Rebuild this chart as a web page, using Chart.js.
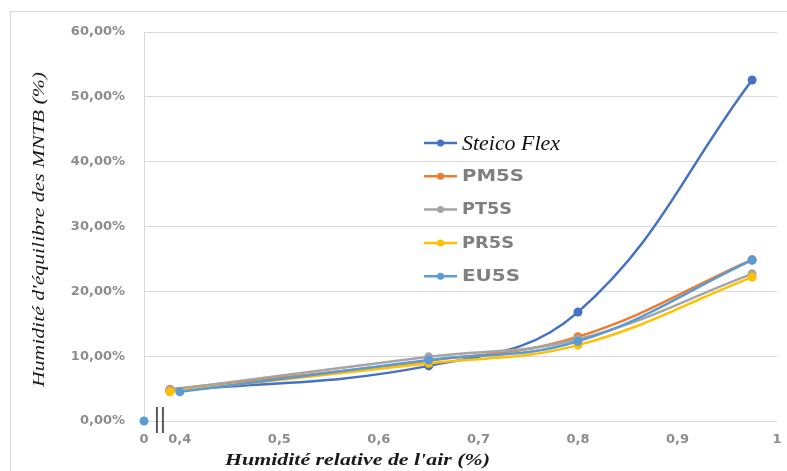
<!DOCTYPE html>
<html>
<head>
<meta charset="utf-8">
<script src="https://cdn.jsdelivr.net/npm/chart.js@4.4.1/dist/chart.umd.min.js"></script>
<style>
  html, body { margin: 0; padding: 0; background: #fff; }
  #wrap { width: 787px; height: 471px; }
</style>
</head>
<body>
<div id="wrap"><canvas id="sorption"></canvas></div>
<script>
// relative humidity of the air (x) and equilibrium moisture content in % (y)
const seriesNames = ['Steico Flex', 'PM5S', 'PT5S', 'PR5S', 'EU5S'];
const seriesColors = ['#4472C4', '#ED7D31', '#A5A5A5', '#FFC000', '#5B9BD5'];
const rhPoints = [0.39, 0.65, 0.8, 0.975];
const rhPointsEu = [0.40, 0.65, 0.8, 0.975];
const steicoFlex = [4.6, 8.5, 16.8, 52.6];
const pm5s = [4.9, 9.3, 13.0, 24.9];
const pt5s = [4.8, 9.9, 12.6, 22.7];
const pr5s = [4.5, 8.9, 11.7, 22.2];
const eu5s = [4.5, 9.4, 12.3, 24.8];
const originX = [0];
const originY = [0];
const xTicks = [0, 0.4, 0.5, 0.6, 0.7, 0.8, 0.9, 1];
const yMax = 60;
const yStep = 10;

// axis break: everything below BREAK_AT is squeezed into a short stretch
const BREAK_AT = 0.38;
const SQUEEZED_START = 0.364;
function squash(v) {
  return v >= BREAK_AT ? v : SQUEEZED_START + (v / BREAK_AT) * (BREAK_AT - SQUEEZED_START);
}
function unsquash(v) {
  return v >= BREAK_AT ? v : (v - SQUEEZED_START) / (BREAK_AT - SQUEEZED_START) * BREAK_AT;
}

class BrokenLinearScale extends Chart.LinearScale {
  buildTicks() {
    this.start = this.min;
    this.end = this.max;
    return xTicks.map(v => ({ value: v }));
  }
  getPixelForValue(value) {
    return super.getPixelForValue(squash(value));
  }
  getValueForPixel(pixel) {
    return unsquash(super.getValueForPixel(pixel));
  }
}
BrokenLinearScale.id = 'brokenLinear';
BrokenLinearScale.defaults = Chart.LinearScale.defaults;
Chart.register(BrokenLinearScale);

function toPoints(xs, ys) {
  return ys.map((y, i) => ({ x: xs[i], y: y }));
}

const seriesValues = [steicoFlex, pm5s, pt5s, pr5s, eu5s];
const datasets = seriesValues.map((vals, i) => ({
  label: seriesNames[i],
  data: toPoints(i === 4 ? rhPointsEu : rhPoints, vals),
  borderColor: seriesColors[i],
  backgroundColor: seriesColors[i],
  borderWidth: 2.5,
  pointRadius: 4.5,
  pointBorderWidth: 0,
  tension: 0.4,
  clip: false,
  order: seriesNames.length - i
}));
datasets.push({
  label: 'origin',
  data: toPoints(originX, originY),
  showLine: false,
  backgroundColor: seriesColors[4],
  borderColor: seriesColors[4],
  pointRadius: 4.5,
  pointBorderWidth: 0,
  clip: false,
  order: 0
});

function stretchText(ctx, text, x, y, font, width) {
  ctx.font = font;
  const w = ctx.measureText(text).width;
  ctx.save();
  ctx.translate(x, y);
  ctx.scale(width / w, 1);
  ctx.fillText(text, 0, 0);
  ctx.restore();
}

const decorations = {
  id: 'decorations',
  beforeDraw(chart) {
    const ctx = chart.ctx;
    ctx.save();
    ctx.strokeStyle = '#d9d9d9';
    ctx.lineWidth = 1;
    ctx.strokeRect(10.5, 11.5, chart.width, chart.height);
    ctx.restore();
  },
  afterDraw(chart) {
    const ctx = chart.ctx;
    const xs = chart.scales.x;
    const area = chart.chartArea;

    // break marks on the x axis
    const bx = xs.getPixelForValue(BREAK_AT);
    ctx.save();
    ctx.strokeStyle = '#595959';
    ctx.lineWidth = 2;
    [bx - 3, bx + 3].forEach(px => {
      ctx.beginPath();
      ctx.moveTo(px, area.bottom - 14);
      ctx.lineTo(px, area.bottom + 12);
      ctx.stroke();
    });
    ctx.restore();

    // axis titles
    ctx.save();
    ctx.fillStyle = '#1a1a1a';
    ctx.textBaseline = 'middle';
    ctx.textAlign = 'left';
    stretchText(ctx, "Humidité relative de l'air (%)", 225, 461,
      'italic bold 17px "Liberation Serif"', 265);
    ctx.translate(40, (area.top + area.bottom) / 2 + 3);
    ctx.rotate(-Math.PI / 2);
    ctx.font = 'italic 17px "Liberation Serif"';
    const yTitle = "Humidité d'équilibre des MNTB (%)";
    const w = ctx.measureText(yTitle).width;
    ctx.scale(315 / w, 1);
    ctx.textAlign = 'center';
    ctx.fillText(yTitle, 0, 0);
    ctx.restore();

    // legend inside the plot
    ctx.save();
    seriesNames.forEach((name, i) => {
      const y = 143 + i * 33.3;
      ctx.strokeStyle = seriesColors[i];
      ctx.fillStyle = seriesColors[i];
      ctx.lineWidth = 2.5;
      ctx.beginPath();
      ctx.moveTo(424, y);
      ctx.lineTo(457, y);
      ctx.stroke();
      ctx.beginPath();
      ctx.arc(440.5, y, 3.5, 0, Math.PI * 2);
      ctx.fill();
      ctx.textBaseline = 'middle';
      ctx.textAlign = 'left';
      if (i === 0) {
        ctx.fillStyle = '#111';
        stretchText(ctx, name, 462, y + 1, 'italic 21px "Liberation Serif"', 98);
      } else {
        ctx.fillStyle = '#7f7f7f';
        stretchText(ctx, name, 462, y + 1, 'bold 15px "DejaVu Sans"', [62, 50, 52, 58][i - 1]);
      }
    });
    ctx.restore();
  }
};

const tickFont = { family: 'DejaVu Sans', size: 13, weight: 'bold' };

new Chart(document.getElementById('sorption'), {
  type: 'line',
  data: { datasets: datasets },
  options: {
    responsive: true,
    maintainAspectRatio: false,
    animation: false,
    layout: { padding: { top: 32, right: 10, bottom: 0, left: 0 } },
    plugins: {
      legend: { display: false },
      tooltip: { enabled: false }
    },
    scales: {
      x: {
        type: 'brokenLinear',
        min: SQUEEZED_START,
        max: 1,
        grid: { display: false },
        border: { display: false },
        ticks: {
          autoSkip: false,
          maxRotation: 0,
          padding: 3,
          color: '#8c8c8c',
          font: tickFont,
          callback: v => String(v).replace('.', ',')
        },
        afterFit: scale => { scale.height = 50; }
      },
      y: {
        min: 0,
        max: yMax,
        grid: { color: '#d9d9d9', drawTicks: false },
        border: { display: true, color: '#d9d9d9' },
        ticks: {
          stepSize: yStep,
          padding: 19,
          color: '#8c8c8c',
          font: tickFont,
          callback: v => v.toFixed(2).replace('.', ',') + '%'
        },
        afterFit: scale => { scale.width = 144; }
      }
    }
  },
  plugins: [decorations]
});
</script>
</body>
</html>
